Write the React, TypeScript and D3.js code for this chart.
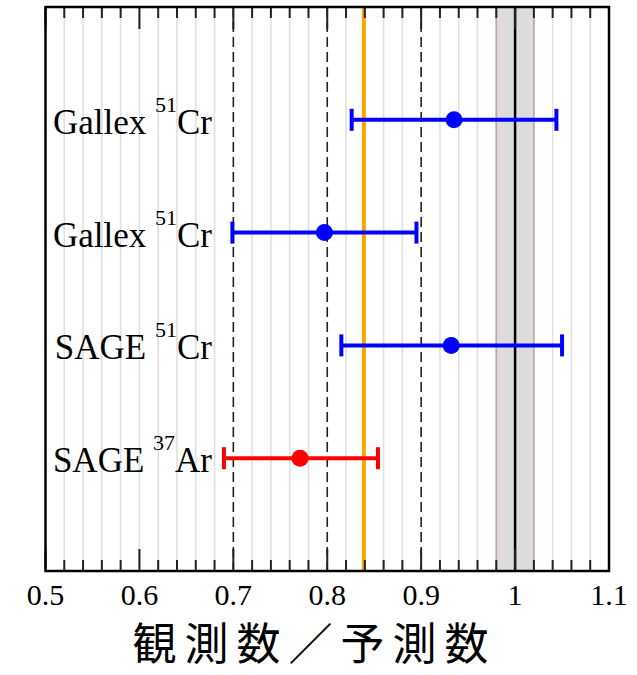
import React from "react";
import * as d3 from "d3";

// Source experiments (top to bottom)
const experiments = ["Gallex", "Gallex", "SAGE", "SAGE"];
const massNumbers = ["51", "51", "51", "37"];
const isotopes = ["Cr", "Cr", "Cr", "Ar"];
const ratios = [0.935, 0.797, 0.932, 0.771];
const lowerBounds = [0.826, 0.699, 0.815, 0.69];
const upperBounds = [1.044, 0.895, 1.05, 0.854];
const pointColors = ["#0000ff", "#0000ff", "#0000ff", "#ff0000"];

// Reference lines
const combinedRatio = 0.839;
const unityBand = [0.98, 1.02];
const dashedRefs = [0.7, 0.8, 0.9];
const xTickLabels = ["0.5", "0.6", "0.7", "0.8", "0.9", "1", "1.1"];

const W = 637;
const H = 675;
const left = 45.5;
const right = 609;
const top = 7;
const bottom = 571;

export default function App() {
  const x = d3.scaleLinear().domain([0.5, 1.1]).range([left, right]);
  const y = d3.scaleLinear().domain([0, 5]).range([top, bottom]);

  // grid / ticks every 0.02
  const fine = d3.range(0, 31).map((i) => +(0.5 + i * 0.02).toFixed(2));
  const isMajor = (v: number) => Math.abs(v * 10 - Math.round(v * 10)) < 1e-6;

  const serif = "'Liberation Serif', 'Times New Roman', serif";

  return (
    <svg
      width={W}
      height={H}
      style={{ position: "absolute", left: 0, top: 0, background: "#fff" }}
    >
      {/* light grid */}
      {fine
        .filter((v) => v > 0.5 && v < 1.1 && !dashedRefs.some((d) => Math.abs(d - v) < 1e-6))
        .map((v) => (
          <line
            key={"g" + v}
            x1={x(v)}
            x2={x(v)}
            y1={top}
            y2={bottom}
            stroke="#e0e0e0"
            strokeWidth={1.6}
          />
        ))}

      {/* unity band */}
      <rect
        x={x(unityBand[0])}
        y={top}
        width={x(unityBand[1]) - x(unityBand[0])}
        height={bottom - top}
        fill="#dcdcdc"
      />
      {unityBand.map((v) => (
        <line
          key={"b" + v}
          x1={x(v)}
          x2={x(v)}
          y1={top}
          y2={bottom}
          stroke="#c9a0a0"
          strokeWidth={1.6}
        />
      ))}
      <line x1={x(1)} x2={x(1)} y1={top} y2={bottom} stroke="#000" strokeWidth={2.5} />

      {/* dashed reference lines */}
      {dashedRefs.map((v) => (
        <line
          key={"d" + v}
          x1={x(v)}
          x2={x(v)}
          y1={top}
          y2={bottom}
          stroke="#222"
          strokeWidth={1.6}
          strokeDasharray="10,5"
        />
      ))}

      {/* combined ratio */}
      <line
        x1={x(combinedRatio)}
        x2={x(combinedRatio)}
        y1={top}
        y2={bottom}
        stroke="#ffa500"
        strokeWidth={4}
      />

      {/* ticks top and bottom, pointing inward */}
      {fine.map((v) => {
        const len = isMajor(v) ? 22 : 11;
        return (
          <g key={"t" + v} stroke="#222" strokeWidth={2}>
            <line x1={x(v)} x2={x(v)} y1={top} y2={top + len} />
            <line x1={x(v)} x2={x(v)} y1={bottom} y2={bottom - len} />
          </g>
        );
      })}

      {/* frame */}
      <rect
        x={left}
        y={top}
        width={right - left}
        height={bottom - top}
        fill="none"
        stroke="#000"
        strokeWidth={2.5}
      />

      {/* error bars and points */}
      {ratios.map((r, i) => {
        const cy = y(i + 1);
        const c = pointColors[i];
        return (
          <g key={"p" + i}>
            <line
              x1={x(lowerBounds[i])}
              x2={x(upperBounds[i])}
              y1={cy}
              y2={cy}
              stroke={c}
              strokeWidth={4}
            />
            {[lowerBounds[i], upperBounds[i]].map((b, j) => (
              <line
                key={j}
                x1={x(b)}
                x2={x(b)}
                y1={cy - 11}
                y2={cy + 11}
                stroke={c}
                strokeWidth={4}
              />
            ))}
            <circle cx={x(r)} cy={cy} r={8.5} fill={c} />
          </g>
        );
      })}

      {/* row labels */}
      {experiments.map((e, i) => {
        const base = y(i + 1) + 14;
        return (
          <text
            key={"l" + i}
            x={212}
            y={base}
            textAnchor="end"
            fontFamily={serif}
            fontSize={35}
            fill="#000"
          >
            <tspan>{e} </tspan>
            <tspan fontSize={22} dy={-22}>
              {massNumbers[i]}
            </tspan>
            <tspan dy={22}>{isotopes[i]}</tspan>
          </text>
        );
      })}

      {/* x tick labels */}
      {xTickLabels.map((t) => (
        <text
          key={"x" + t}
          x={x(+t)}
          y={605}
          textAnchor="middle"
          fontFamily={serif}
          fontSize={30}
          fill="#000"
        >
          {t}
        </text>
      ))}

      {/* x axis title */}
      <text
        x={(132 + 497) / 2}
        y={660}
        textAnchor="middle"
        fontFamily="'Noto Sans CJK JP', sans-serif"
        fontSize={44}
        letterSpacing={8}
        fill="#000"
      >
        観測数／予測数
      </text>
    </svg>
  );
}
